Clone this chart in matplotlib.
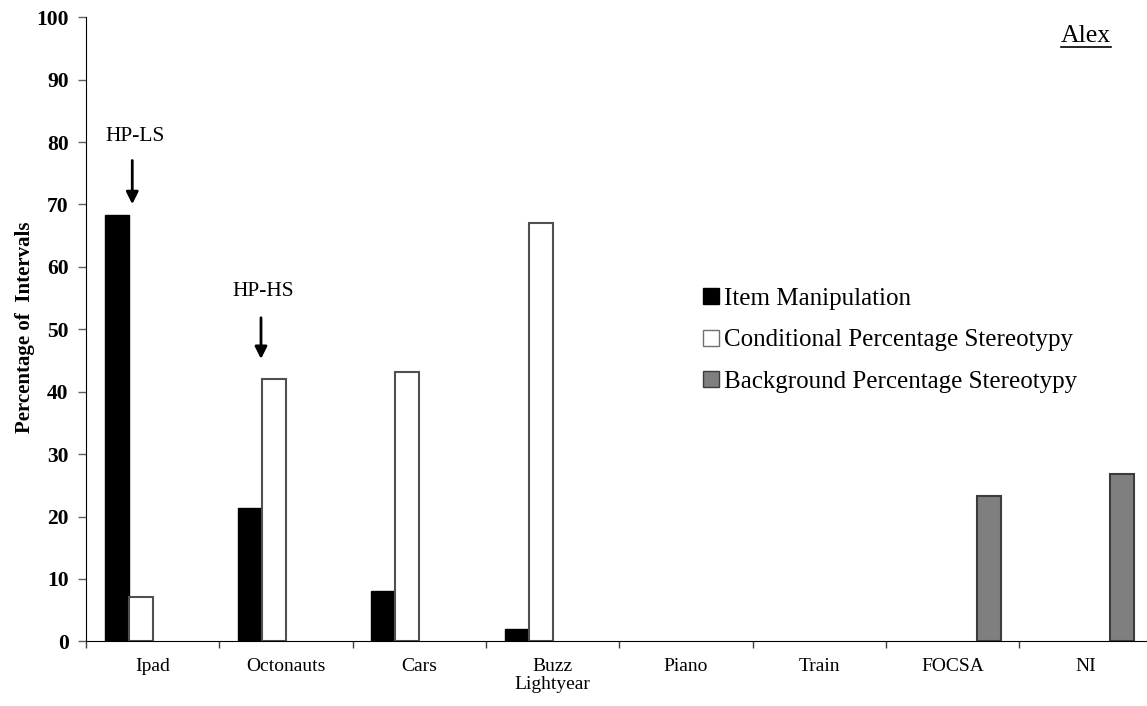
import matplotlib
matplotlib.use('Agg')
import matplotlib.pyplot as plt
import numpy as np
from matplotlib.lines import Line2D
from matplotlib.patches import Patch

plt.rcParams['font.family'] = ['Liberation Serif', 'DejaVu Serif']

categories = ['Ipad', 'Octonauts', 'Cars', 'Buzz\nLightyear', 'Piano', 'Train', 'FOCSA', 'NI']
item_manipulation = [68.3, 21.4, 8.0, 1.9, 0, 0, 0, 0]
conditional_stereotypy = [7.1, 42.1, 43.1, 67.1, 0, 0, 0, 0]
background_stereotypy = [0, 0, 0, 0, 0, 0, 23.3, 26.8]
y_ticks = [0, 10, 20, 30, 40, 50, 60, 70, 80, 90, 100]

W, H = 1147, 706
fig = plt.figure(figsize=(W / 100, H / 100), dpi=100)
# axes run a little past the right edge, like the original export
ax = fig.add_axes([86 / W, (H - 641.3) / H, 1066.6 / W, 624 / H])

x = np.arange(len(categories)) + 0.5
w = 0.18


def draw_series(offset, values, **style):
    # zero values are left out so no flat outline sits on the axis
    vals = np.asarray(values, dtype=float)
    keep = vals > 0
    ax.bar(x[keep] + offset, vals[keep], w, **style)


draw_series(-1.5 * w, item_manipulation, color='black', edgecolor='black', linewidth=1)
draw_series(-0.5 * w, conditional_stereotypy, color='white', edgecolor='#505050', linewidth=1.5)
# slot 3 is empty, background series sits in the fourth slot
draw_series(1.5 * w, background_stereotypy, color='#7f7f7f', edgecolor='#3c3c3c', linewidth=1.5)

ax.set_xlim(0, len(categories))
ax.set_ylim(0, 100)
ax.set_yticks(y_ticks)
ax.set_yticklabels([str(t) for t in y_ticks], fontsize=15.5, fontweight='bold')
ax.tick_params(axis='y', length=6, width=1, color='#606060', pad=6.5)

ax.set_xticks(x)
ax.set_xticklabels(categories, fontsize=14, linespacing=1.05)
ax.set_xticks(np.arange(len(categories) + 1), minor=True)
ax.tick_params(axis='x', which='major', length=0, pad=12)
ax.tick_params(axis='x', which='minor', length=5, width=1, color='#404040')

for side in ['top', 'right']:
    ax.spines[side].set_visible(False)
ax.spines['left'].set_color('black')
ax.spines['bottom'].set_color('black')

ax.set_ylabel('Percentage of  Intervals', fontsize=15, fontweight='bold')
ax.yaxis.set_label_coords(-0.048, 0.504)

# phase markers
ax.text(0.3675, 80.9, 'HP-LS', fontsize=15.5, ha='center', va='center')
ax.annotate('', xy=(0.347, 69.6), xytext=(0.347, 77.5),
            arrowprops=dict(arrowstyle='-|>', color='black', lw=2, mutation_scale=18))
ax.text(1.3275, 56.0, 'HP-HS', fontsize=15.5, ha='center', va='center')
ax.annotate('', xy=(1.3125, 44.8), xytext=(1.3125, 52.3),
            arrowprops=dict(arrowstyle='-|>', color='black', lw=2, mutation_scale=18))

handles = [
    Patch(facecolor='black', edgecolor='black', label='Item Manipulation'),
    Patch(facecolor='white', edgecolor='#707070', label='Conditional Percentage Stereotypy'),
    Patch(facecolor='#7f7f7f', edgecolor='#3c3c3c', label='Background Percentage Stereotypy'),
]
fig.legend(handles=handles, loc='upper left', bbox_to_anchor=(693 / W, 1 - 278 / H),
           frameon=False, fontsize=18, handlelength=0.62, handleheight=0.62,
           handletextpad=0.2, labelspacing=0.78, borderaxespad=0)

# participant name, underlined
fig.text(1086 / W, 1 - 36 / H, 'Alex', fontsize=18.5, ha='center', va='center')
fig.add_artist(Line2D([1061 / W, 1111 / W], [1 - 47 / H] * 2, color='black', lw=1.2))

fig.savefig('out.png', dpi=100)
